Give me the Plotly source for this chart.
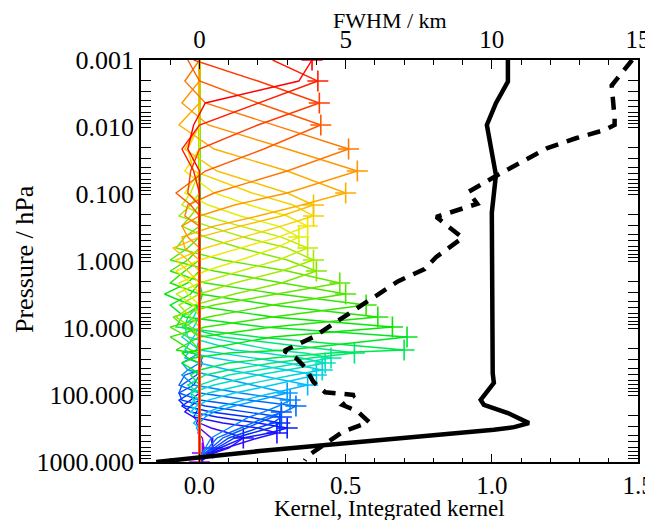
import plotly.graph_objects as go

# Retrieval levels (hPa), bottom to top
levels_hpa = [1000, 734, 618, 438, 369, 311, 262, 213, 179, 146, 119, 93.3, 71.0,
              50.3, 42.4, 33.3, 28.0, 23.6, 21.3, 13.6, 9.67, 6.86, 4.54, 3.11, 2.13,
              1.41, 0.966, 0.640, 0.439, 0.301, 0.213, 0.146, 0.0966, 0.0454, 0.0213,
              0.00933, 0.00438, 0.00206, 0.001]

# Diagonal (peak) kernel values at each level ("+" markers)
diag_vals = [0.0, 0.01, 0.045, 0.15, 0.265, 0.30, 0.275, 0.28, 0.28, 0.33, 0.31, 0.30, 0.37,
             0.40, 0.42, 0.43, 0.45, 0.53, 0.70, 0.71, 0.66, 0.61, 0.57, 0.50, 0.48,
             0.40, 0.39, 0.37, 0.34, 0.37, 0.39, 0.39, 0.50, 0.54, 0.51,
             0.415, 0.41, 0.405, 0.385]

# Kernel rows: first level index of the non-zero window, and the values in it
kernel_start = [0, 0, 0, 0, 0, 0, 0, 0, 0, 0, 0, 5, 6, 8, 9, 10, 11, 12, 13, 14, 15, 16, 17,
                18, 19, 19, 20, 21, 22, 23, 24, 25, 26, 27, 29, 30, 31, 32, 33]
kernel_vals = [
    [0.0, 0.0],
    [0.0, 0.01, 0.015, 0.01, -0.005],
    [0.0, 0.02, 0.045, 0.04, 0.02, 0.0, -0.01],
    [0.0, 0.05, 0.10, 0.15, 0.10, 0.04, 0.0, -0.02, -0.01],
    [0.0, 0.04, 0.09, 0.20, 0.265, 0.20, 0.08, -0.02, -0.05, -0.03, 0.0],
    [0.0, 0.03, 0.07, 0.15, 0.24, 0.30, 0.20, 0.06, -0.03, -0.06, -0.03, 0.0],
    [0.0, 0.03, 0.06, 0.12, 0.18, 0.24, 0.275, 0.17, 0.04, -0.05, -0.07, -0.03, 0.0],
    [0.0, 0.02, 0.05, 0.10, 0.15, 0.20, 0.25, 0.28, 0.16, 0.02, -0.06, -0.07, -0.02, 0.0],
    [0.0, 0.02, 0.04, 0.08, 0.12, 0.16, 0.20, 0.25, 0.28, 0.15, 0.0, -0.07, -0.06, -0.01, 0.0],
    [0.0, 0.01, 0.03, 0.06, 0.10, 0.14, 0.18, 0.23, 0.29, 0.33, 0.17, 0.0, -0.07, -0.05, 0.0, 0.01],
    [0.0, 0.01, 0.02, 0.04, 0.07, 0.10, 0.13, 0.17, 0.22, 0.27, 0.31, 0.14, -0.02, -0.06, -0.04, 0.0, 0.01],
    [-0.01, 0.0, 0.02, 0.05, 0.12, 0.20, 0.30, 0.18, 0.03, -0.04, -0.06, -0.03, 0.0],
    [-0.02, 0.0, 0.03, 0.08, 0.15, 0.25, 0.37, 0.20, 0.10, 0.0, -0.05, -0.04, -0.01],
    [-0.03, -0.01, 0.03, 0.12, 0.25, 0.40, 0.30, 0.15, 0.05, -0.03, -0.05, -0.02],
    [-0.03, -0.02, 0.03, 0.15, 0.32, 0.42, 0.30, 0.18, 0.06, 0.0, -0.06, -0.02],
    [-0.02, -0.03, 0.05, 0.20, 0.30, 0.43, 0.35, 0.22, 0.12, -0.04, -0.05, 0.0],
    [-0.03, 0.0, 0.10, 0.20, 0.35, 0.45, 0.36, 0.25, 0.02, -0.06, -0.02],
    [-0.04, 0.02, 0.10, 0.25, 0.38, 0.53, 0.45, 0.08, -0.05, -0.04, 0.0],
    [-0.03, 0.0, 0.10, 0.25, 0.45, 0.70, 0.20, -0.08, -0.06, 0.0, 0.01],
    [-0.02, -0.06, -0.02, 0.10, 0.30, 0.71, 0.22, -0.05, -0.10, -0.03, 0.0],
    [0.0, -0.04, -0.06, 0.0, 0.25, 0.66, 0.25, -0.03, -0.12, -0.04, 0.0],
    [0.0, -0.02, -0.08, 0.0, 0.25, 0.61, 0.25, 0.0, -0.10, -0.05, 0.0],
    [0.0, -0.03, -0.10, 0.02, 0.25, 0.57, 0.27, 0.02, -0.10, -0.04, 0.0],
    [0.0, -0.04, -0.10, 0.03, 0.25, 0.50, 0.28, 0.05, -0.10, -0.04, 0.0],
    [0.0, -0.05, -0.09, 0.05, 0.27, 0.48, 0.30, 0.08, -0.08, -0.05, 0.0],
    [0.0, -0.03, -0.08, -0.02, 0.12, 0.28, 0.40, 0.30, 0.14, 0.02, -0.06, -0.03, 0.0],
    [0.0, -0.03, -0.07, 0.0, 0.12, 0.28, 0.39, 0.30, 0.15, 0.03, -0.07, -0.03, 0.0],
    [0.0, -0.02, -0.08, 0.0, 0.14, 0.27, 0.37, 0.28, 0.14, 0.02, -0.06, -0.03, 0.0],
    [0.0, -0.04, -0.07, 0.02, 0.14, 0.26, 0.34, 0.27, 0.14, 0.03, -0.05, 0.0],
    [0.0, -0.03, -0.08, 0.0, 0.14, 0.27, 0.37, 0.30, 0.17, 0.05, -0.05, 0.0],
    [0.0, -0.04, -0.08, 0.02, 0.15, 0.28, 0.39, 0.32, 0.18, -0.02, -0.04],
    [0.0, -0.04, -0.09, 0.0, 0.14, 0.28, 0.39, 0.30, 0.06, -0.05, 0.0],
    [0.0, -0.05, -0.06, 0.05, 0.20, 0.35, 0.50, 0.30, 0.05, -0.07, 0.0],
    [0.0, -0.04, -0.06, 0.0, 0.12, 0.30, 0.54, 0.30, 0.03, -0.06, 0.0],
    [0.0, -0.05, -0.04, 0.05, 0.30, 0.51, 0.25, 0.02, -0.05, 0.0],
    [0.0, -0.03, -0.08, 0.02, 0.22, 0.415, 0.20, 0.0, -0.04],
    [0.0, -0.04, -0.03, 0.0, 0.20, 0.41, 0.20, -0.02],
    [0.0, -0.02, -0.06, 0.0, 0.20, 0.405, 0.25],
    [0.0, -0.04, -0.02, 0.02, 0.34, 0.385],
]

# Integrated kernel (solid black)
integ_vals = [1.055, 1.055, 1.014, 0.983, 1.014, 1.007, 1.0, 1.003, 1.007, 0.962, 0.973,
              1.055, 1.127, 1.076, 1.007, 0.206, -0.148]
integ_p = [0.001, 0.0021, 0.0044, 0.0093, 0.052, 0.10, 0.19, 47, 66, 118, 141,
           186, 263, 302, 331, 686, 1000]

# FWHM in km (dashed black, top axis)
fwhm_km = [14.8, 14.1, 14.2, 14.2, 13.85, 12.9, 11.9, 11.0, 10.2, 9.2, 9.5, 8.1, 9.0, 8.1,
           7.7, 6.8, 5.2, 3.9, 2.9, 3.3, 3.6, 3.9, 4.3, 5.3, 4.9, 5.4, 5.8, 4.9, 4.5, 3.7, 3.6]
fwhm_p = [0.001, 0.0024, 0.0074, 0.0093, 0.0111, 0.0146, 0.0206, 0.0333, 0.052, 0.093,
          0.14, 0.22, 0.45, 0.87, 1.32, 2.0, 5.8, 13.6, 21.9, 28, 38, 64, 91, 100, 141,
          174, 253, 355, 468, 813, 950]

y_tickvals = [0.001, 0.01, 0.1, 1, 10, 100, 1000]
y_ticktext = ["0.001", "0.010", "0.100", "1.000", "10.000", "100.000", "1000.000"]
x_tickvals = [0.0, 0.5, 1.0, 1.5]
x_ticktext = ["0.0", "0.5", "1.0", "1.5"]
x2_tickvals = [0, 5, 10, 15]
x2_ticktext = ["0", "5", "10", "15"]

x_title = "Kernel, Integrated kernel"
x2_title = "FWHM / km"
y_title = "Pressure / hPa"

# rainbow palette anchors (IDL-like)
anchors = [(0.00, (170, 0, 255)), (0.07, (70, 0, 255)), (0.14, (0, 30, 255)),
           (0.24, (0, 110, 255)), (0.33, (0, 200, 255)), (0.42, (0, 230, 170)),
           (0.52, (0, 230, 0)), (0.64, (110, 230, 0)), (0.75, (240, 240, 0)),
           (0.86, (255, 160, 0)), (1.00, (255, 0, 0))]


def rainbow(t):
    for (t0, c0), (t1, c1) in zip(anchors[:-1], anchors[1:]):
        if t <= t1:
            f = (t - t0) / (t1 - t0)
            c = [round(a + (b - a) * f) for a, b in zip(c0, c1)]
            return "rgb(%d,%d,%d)" % tuple(c)
    return "rgb(255,0,0)"


n = len(levels_hpa)
fig = go.Figure()
colors = [rainbow(i / (n - 1)) for i in range(n)]

for i in range(n):
    row = [0.0] * n
    for k, v in enumerate(kernel_vals[i]):
        row[kernel_start[i] + k] = v
    fig.add_trace(go.Scatter(x=row, y=levels_hpa, mode="lines",
                             line=dict(color=colors[i], width=1.4),
                             showlegend=False, hoverinfo="skip"))
    fig.add_trace(go.Scatter(x=[diag_vals[i]], y=[levels_hpa[i]], mode="markers",
                             marker=dict(symbol="cross-thin", size=15,
                                         line=dict(color=colors[i], width=1.6)),
                             showlegend=False, hoverinfo="skip"))

fig.add_trace(go.Scatter(x=integ_vals, y=integ_p, mode="lines",
                         line=dict(color="black", width=4.5),
                         showlegend=False, hoverinfo="skip"))
fig.add_trace(go.Scatter(x=fwhm_km, y=fwhm_p, mode="lines", xaxis="x2",
                         line=dict(color="black", width=4.5, dash="13px,9px"),
                         showlegend=False, hoverinfo="skip"))

font_family = "Liberation Serif"
# page has an 8px body margin: figure is 645x512 drawn at (8,8)
L, T, R, B = 133, 52, 15, 58
fig.update_layout(
    width=645, height=512,
    margin=dict(l=L, r=R, t=T, b=B, autoexpand=False),
    paper_bgcolor="white", plot_bgcolor="white",
    font=dict(family=font_family, size=24, color="black"),
    xaxis=dict(range=[-0.2, 1.5], tickvals=x_tickvals, ticktext=x_ticktext,
               ticks="inside", ticklen=8, tickwidth=1.2, tickcolor="black",
               minor=dict(dtick=0.1, ticks="inside", ticklen=4, tickcolor="black", showgrid=False),
               showline=True, linecolor="black", linewidth=1.5, mirror=False,
               showgrid=False, zeroline=False, automargin=False,
               ticklabelstandoff=0, ticklabeloverflow="allow",
               tickfont=dict(size=25)),
    xaxis2=dict(range=[-2.0, 15.0], overlaying="x", side="top",
                tickvals=x2_tickvals, ticktext=x2_ticktext,
                ticks="inside", ticklen=9, tickwidth=1.2, tickcolor="black",
                minor=dict(dtick=1, ticks="inside", ticklen=5, tickcolor="black", showgrid=False),
                showline=True, linecolor="black", linewidth=1.5,
                showgrid=False, zeroline=False, automargin=False,
                ticklabelstandoff=0, ticklabeloverflow="allow",
                tickfont=dict(size=25)),
    yaxis=dict(type="log", range=[3, -3], tickvals=y_tickvals, ticktext=y_ticktext,
               ticks="inside", ticklen=10, tickwidth=1.2, tickcolor="black",
               minor=dict(dtick="D1", ticks="inside", ticklen=5, tickcolor="black", showgrid=False),
               showline=True, linecolor="black", linewidth=1.5, mirror="allticks",
               showgrid=False, zeroline=False, automargin=False,
               ticklabelstandoff=0, ticklabeloverflow="allow",
               tickfont=dict(size=26)),
    annotations=[
        dict(text=x_title, xref="paper", yref="paper", x=0.5, y=0, xanchor="center",
             yanchor="middle", yshift=-46, showarrow=False, font=dict(size=23)),
        dict(text=x2_title, xref="paper", yref="paper", x=0.5, y=1, xanchor="center",
             yanchor="middle", yshift=40, showarrow=False, font=dict(size=22)),
        dict(text=y_title, xref="paper", yref="paper", x=0, y=0.5, xanchor="center",
             yanchor="middle", xshift=-117, yshift=2, textangle=-90, showarrow=False,
             font=dict(size=26)),
    ],
)

fig.write_html("out.html")
